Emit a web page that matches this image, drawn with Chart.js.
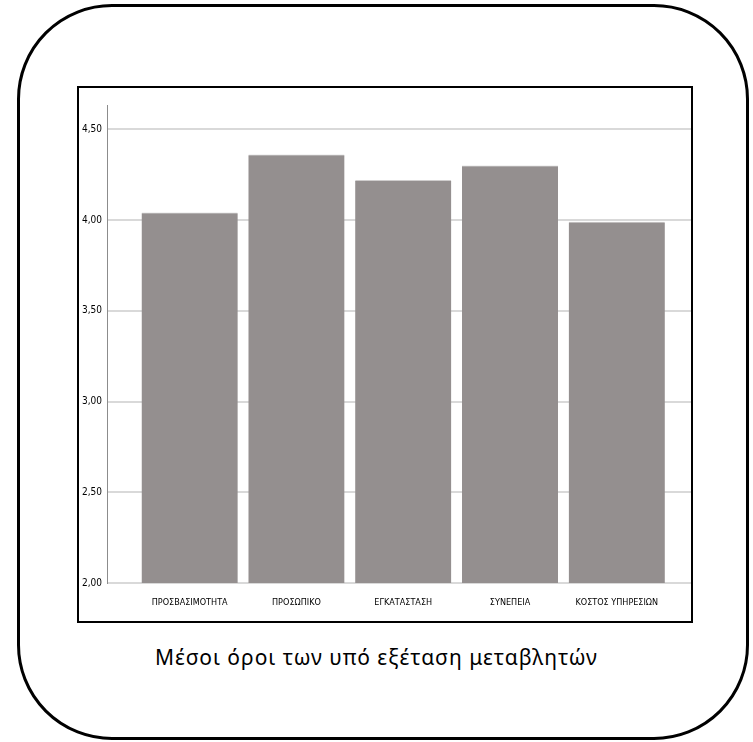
<!DOCTYPE html>
<html>
<head>
<meta charset="utf-8">
<script src="https://cdn.jsdelivr.net/npm/chart.js@4"></script>
<style>
  body { margin: 0; background: #fff; width: 753px; height: 742px; position: relative; overflow: hidden; }
  #outer { position: absolute; left: 17px; top: 4px; width: 726px; height: 730px; border: 3px solid #000; border-radius: 95px; }
  #frame { position: absolute; left: 77px; top: 86px; width: 612px; height: 533px; border: 2px solid #000; }
  #frame canvas { display: block; }
  #caption { position: absolute; left: 0; width: 753px; top: 643px; text-align: center; font-family: "Noto Sans", sans-serif; font-size: 21px; letter-spacing: 1px; color: #000; }
</style>
</head>
<body>
<div id="outer"></div>
<div id="frame"><canvas id="myChart" width="612" height="533"></canvas></div>
<div id="caption">Μέσοι όροι των υπό εξέταση μεταβλητών</div>
<script>
const categories = ["ΠΡΟΣΒΑΣΙΜΟΤΗΤΑ", "ΠΡΟΣΩΠΙΚΟ", "ΕΓΚΑΤΑΣΤΑΣΗ", "ΣΥΝΕΠΕΙΑ", "ΚΟΣΤΟΣ ΥΠΗΡΕΣΙΩΝ"];
const means = [4.04, 4.36, 4.22, 4.30, 3.99];
const yTicks = [2.0, 2.5, 3.0, 3.5, 4.0, 4.5];

const narrow = '"DejaVu Sans Condensed", "Liberation Sans Narrow", Arial, sans-serif';

new Chart("myChart", {
  type: "bar",
  data: {
    datasets: [
      {
        data: means.map((v, i) => ({ x: i + 1, y: v })),
        backgroundColor: "#948f8f",
        borderColor: "#cfcdcd",
        borderWidth: { top: 1, left: 0, right: 0, bottom: 0 },
        borderSkipped: false,
        barThickness: 96,
      },
    ],
  },
  options: {
    responsive: false,
    animation: false,
    layout: { padding: { top: 17, right: 0, bottom: 0, left: 0 } },
    plugins: { legend: { display: false }, tooltip: { enabled: false } },
    scales: {
      x: {
        type: "linear",
        offset: false,
        min: 0.226,
        max: 5.695,
        grid: { display: false, offset: false },
        border: { display: false },
        afterBuildTicks: (axis) => {
          axis.ticks = categories.map((c, i) => ({ value: i + 1 }));
        },
        afterFit: (axis) => { axis.height = 38; },
        ticks: {
          autoSkip: false,
          maxRotation: 0,
          padding: 6,
          color: "#000",
          font: { family: narrow, size: 9 },
          callback: (v) => categories[v - 1],
        },
      },
      y: {
        min: 2,
        max: 4.635,
        afterBuildTicks: (axis) => {
          axis.ticks = yTicks.map((v) => ({ value: v }));
        },
        afterFit: (axis) => { axis.width = 28; },
        grid: { color: "#d9d9d9", lineWidth: 2, drawTicks: false },
        border: { display: true, color: "#8c8c8c", width: 1 },
        ticks: {
          padding: 5,
          color: "#000",
          font: { family: narrow, size: 10 },
          callback: (v) => v.toFixed(2).replace(".", ","),
        },
      },
    },
  },
});
</script>
</body>
</html>
